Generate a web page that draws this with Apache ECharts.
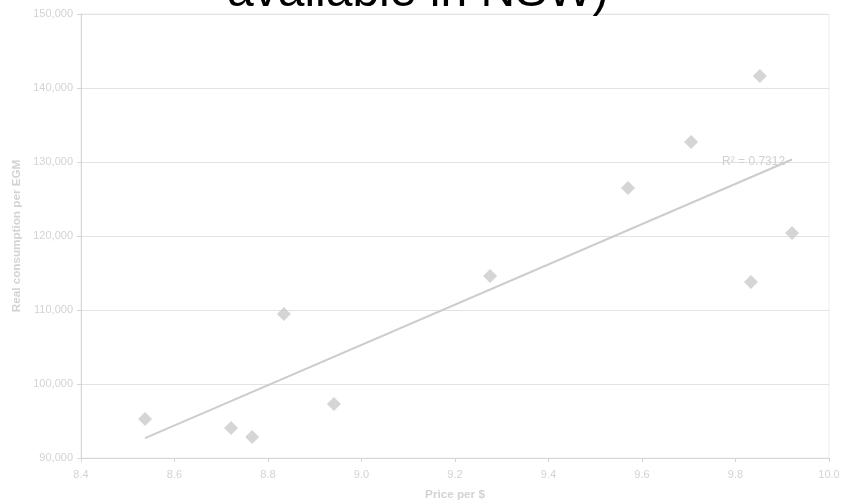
<!DOCTYPE html>
<html>
<head>
<meta charset="utf-8">
<script src="https://cdn.jsdelivr.net/npm/echarts@6/dist/echarts.min.js"></script>
<style>
html,body{margin:0;padding:0;background:#fff;}
#chart{width:842px;height:504px;}
</style>
</head>
<body>
<div id="chart"></div>
<script>
// Data
const titleText = "available in NSW)";
const xAxisName = "Price per $";
const yAxisName = "Real consumption per EGM";
const priceValues = [8.537, 8.721, 8.766, 8.834, 8.941, 9.275, 9.570, 9.705, 9.852, 9.833, 9.921];
const consumptionValues = [95270, 94050, 92840, 109460, 97300, 114600, 126490, 132700, 141620, 113780, 120400];
const r2Label = "R\u00b2 = 0.7312";
const xTicks = [8.4, 8.6, 8.8, 9.0, 9.2, 9.4, 9.6, 9.8, 10.0];
const yTicks = [90000, 100000, 110000, 120000, 130000, 140000, 150000];

const points = priceValues.map((x, i) => [x, consumptionValues[i]]);

// Linear least-squares trendline (as in the original spreadsheet chart)
const n = points.length;
const mx = priceValues.reduce((a, b) => a + b, 0) / n;
const my = consumptionValues.reduce((a, b) => a + b, 0) / n;
let sxy = 0, sxx = 0;
for (let i = 0; i < n; i++) {
  sxy += (priceValues[i] - mx) * (consumptionValues[i] - my);
  sxx += (priceValues[i] - mx) * (priceValues[i] - mx);
}
const slope = sxy / sxx;
const intercept = my - slope * mx;
const xMin = Math.min(...priceValues), xMax = Math.max(...priceValues);
const trend = [[xMin, intercept + slope * xMin], [xMax, intercept + slope * xMax]];

const labelColor = '#d3d3d3';
const chart = echarts.init(document.getElementById('chart'));
chart.setOption({
  animation: false,
  backgroundColor: '#fff',
  textStyle: { fontFamily: 'Liberation Sans, Arial, sans-serif' },
  title: {
    text: titleText,
    left: 222,
    top: -36,
    textStyle: { color: '#000', fontSize: 48, fontWeight: 'normal', fontFamily: 'Liberation Sans, Arial, sans-serif' }
  },
  grid: {
    left: 81, right: 13, top: 14, bottom: 46,
    outerBoundsMode: 'none', containLabel: false,
    show: true, borderColor: '#ececec', borderWidth: 1
  },
  xAxis: {
    type: 'value',
    min: xTicks[0], max: xTicks[xTicks.length - 1], interval: 0.2,
    name: xAxisName, nameLocation: 'middle', nameGap: 31,
    nameTextStyle: { color: labelColor, fontSize: 11.7, fontWeight: 'bold' },
    axisLine: { show: true, lineStyle: { color: '#d6d6d6', width: 1 } },
    axisTick: { show: true, length: 4, lineStyle: { color: '#d6d6d6' } },
    axisLabel: { color: labelColor, fontSize: 11, margin: 11, formatter: v => v.toFixed(1) },
    splitLine: { show: false }
  },
  yAxis: {
    type: 'value',
    min: yTicks[0], max: yTicks[yTicks.length - 1], interval: 10000,
    name: yAxisName, nameLocation: 'middle', nameGap: 57,
    nameTextStyle: { color: labelColor, fontSize: 11.7, fontWeight: 'bold' },
    axisLine: { show: true, lineStyle: { color: '#d6d6d6', width: 1 } },
    axisTick: { show: true, length: 4, lineStyle: { color: '#d6d6d6' } },
    axisLabel: { color: labelColor, fontSize: 11, margin: 8, formatter: v => v.toLocaleString('en-US') },
    splitLine: { show: true, lineStyle: { color: '#e3e3e3', width: 1 } }
  },
  series: [
    {
      type: 'line',
      data: trend,
      showSymbol: false,
      symbol: 'none',
      lineStyle: { color: '#cccccc', width: 2 },
      z: 1,
      endLabel: {
        show: true,
        formatter: r2Label,
        color: '#d0d0d0',
        fontSize: 12,
        offset: [-78, 2]
      }
    },
    {
      type: 'scatter',
      data: points,
      symbol: 'diamond',
      symbolSize: 14,
      itemStyle: { color: '#cbcbcb' },
      z: 2
    }
  ]
});
</script>
</body>
</html>
